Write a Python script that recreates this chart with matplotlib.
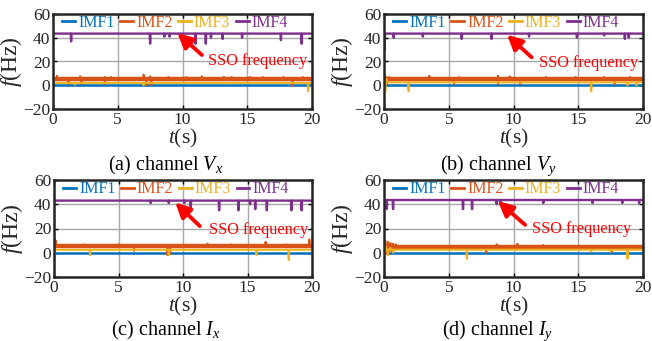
import numpy as np
import matplotlib
matplotlib.use("Agg")
import matplotlib.pyplot as plt

plt.rcParams['font.family'] = ['Liberation Serif', 'DejaVu Serif']
plt.rcParams['mathtext.fontset'] = 'custom'
plt.rcParams['mathtext.rm'] = 'Liberation Serif'
plt.rcParams['mathtext.it'] = 'Liberation Serif:italic'

# ---------------- data ----------------
T_END = 20.0
SERIES = ["IMF1", "IMF2", "IMF3", "IMF4"]
COLORS = ["#0072BD", "#D95319", "#EDB120", "#7E2F8E"]
CAPTIONS = ["(a) channel $V_x$", "(b) channel $V_y$", "(c) channel $I_x$", "(d) channel $I_y$"]
X_TICKS = [0, 5, 10, 15, 20]
Y_TICKS = [-20, 0, 20, 40, 60]

IMF1_LEVEL = [0.0, 0.0, 0.0, 0.0]
IMF2_LEVEL = [5.0, 5.0, 5.5, 5.0]
IMF3_LEVEL = [2.0, 2.5, 2.5, 2.5]
IMF4_LEVEL = [43.5, 43.5, 43.0, 43.5]

# spikes: (time s, value Hz)
IMF2_SPIKES_A = [(0.3, 8), (1.2, 1), (2.1, 7.5), (2.2, 1), (4.0, 1), (4.0, 7), (4.5, 7), (7.0, 9), (7.2, 0),
                 (7.5, 7.5), (7.6, 0), (8.9, 7), (10.3, 7), (11.5, 7.5), (13.2, 7), (13.8, 7), (15.2, 7),
                 (16.2, 7), (17.8, 7), (18.5, -0.5), (19.3, 7)]
IMF3_SPIKES_A = [(1.7, 0.5), (7.0, 0), (13.4, 1.5), (19.7, -5)]
IMF4_DIPS_A = [(1.4, 37), (7.5, 35), (8.6, 41), (9.0, 41), (11.0, 35), (11.8, 35), (12.2, 40), (13.1, 39),
               (14.6, 40), (17.6, 38), (19.2, 35)]

IMF2_SPIKES_B = [(0.05, -3), (0.1, 8), (0.2, 1), (0.4, 7), (3.5, 8), (5.4, 1), (5.8, 7), (8.8, 1), (8.8, 8),
                 (9.7, 7.5), (10.5, 1), (12.5, 7), (14.8, 7), (17.0, 7), (17.8, 1), (19.0, 7)]
IMF3_SPIKES_B = [(0.1, -5), (0.2, 5), (1.9, -5), (16.0, -5), (18.8, 0), (19.5, 0)]
IMF4_DIPS_B = [(0.05, 30), (0.75, 40), (3.0, 41), (6.0, 39), (8.3, 39), (11.2, 41), (14.9, 40), (17.0, 42),
               (18.6, 39), (18.9, 40)]

IMF2_SPIKES_C = [(0.05, 12), (0.15, 10), (2.3, 7), (5.0, 7), (6.2, 1.5), (8.8, -2), (9.0, -1), (11.9, 7.5),
                 (13.7, 7), (16.4, 9), (18.0, 7), (19.8, 11)]
IMF3_SPIKES_C = [(0.05, -5), (2.8, -2), (8.9, -2), (15.7, -2), (18.2, -6)]
IMF4_DIPS_C = [(7.5, 41), (8.9, 41), (10.1, 41), (10.6, 37), (12.8, 35), (14.3, 35), (15.2, 40), (15.6, 36),
               (16.5, 35), (18.4, 35), (19.2, 35)]

IMF2_SPIKES_D = [(0.05, -2), (0.1, 10), (0.2, -1), (0.3, 9), (0.4, 0), (0.5, 8), (0.6, 1), (0.7, 7.5),
                 (0.8, 2), (0.9, 7), (7.9, 0), (8.7, 7), (10.3, 7.5), (12.3, 6.5), (16.1, 3), (17.6, 1)]
IMF3_SPIKES_D = [(0.05, -4), (0.15, 5), (0.3, -2), (0.5, 4), (0.7, 0), (6.4, -5), (16.0, 1), (17.5, 1),
                 (18.8, -5)]
IMF4_DIPS_D = [(0.2, 36), (0.7, 36), (6.1, 36), (6.8, 36), (8.7, 40), (9.0, 40), (12.3, 41), (16.1, 41),
               (18.4, 41), (19.7, 41)]

IMF2_SPIKES = [IMF2_SPIKES_A, IMF2_SPIKES_B, IMF2_SPIKES_C, IMF2_SPIKES_D]
IMF3_SPIKES = [IMF3_SPIKES_A, IMF3_SPIKES_B, IMF3_SPIKES_C, IMF3_SPIKES_D]
IMF4_DIPS = [IMF4_DIPS_A, IMF4_DIPS_B, IMF4_DIPS_C, IMF4_DIPS_D]

# annotation: arrow tip, arrow tail, text position (t, f)
ARROW_TIP = [(9.6, 44), (9.5, 42.5), (9.4, 41.5), (8.8, 42.5)]
ARROW_TAIL = [(11.5, 25.5), (11.4, 23.5), (11.3, 22.0), (10.9, 23.0)]
ARROW_TEXT = [(12.0, 20.5), (12.0, 18.5), (12.0, 18.5), (11.4, 19.5)]

# ---------------- helpers ----------------
def spiky(level, events, w=0.03):
    t = [0.0]
    f = [level]
    for (te, v) in sorted(events):
        t += [max(te - w, 0), te, min(te + w, T_END)]
        f += [level, v, level]
    t.append(T_END)
    f.append(level)
    return np.array(t), np.array(f)

# ---------------- layout ----------------
fig = plt.figure(figsize=(6.52, 3.41), dpi=100)
W, H = 652, 341
boxes = [(53, 14, 312, 109), (384, 14, 643, 109), (54, 180, 312, 277), (384, 180, 643, 277)]
cap_pos = [(166, 170), (498, 170), (166, 335), (498, 335)]
TXT = "#262626"

for i, (l, t, r, b) in enumerate(boxes):
    ax = fig.add_axes([l / W, 1 - b / H, (r - l) / W, (b - t) / H])
    lines = []
    t1, f1 = spiky(IMF1_LEVEL[i], [])
    lines.append(ax.plot(t1, f1, color=COLORS[0], lw=1.8)[0])
    ax.plot([0, T_END], [IMF2_LEVEL[i]] * 2, color=COLORS[1], lw=3.2)
    t2, f2 = spiky(IMF2_LEVEL[i], IMF2_SPIKES[i])
    lines.append(ax.plot(t2, f2, color=COLORS[1], lw=1.4)[0])
    t3, f3 = spiky(IMF3_LEVEL[i], IMF3_SPIKES[i])
    lines.append(ax.plot(t3, f3, color=COLORS[2], lw=1.5)[0])
    t4, f4 = spiky(IMF4_LEVEL[i], IMF4_DIPS[i])
    lines.append(ax.plot(t4, f4, color=COLORS[3], lw=1.7)[0])

    ax.set_xlim(0, 20)
    ax.set_ylim(-20, 60)
    ax.set_xticks(X_TICKS)
    ax.set_yticks(Y_TICKS)
    ax.grid(True, color="#a8a8a8", lw=1.0)
    ax.set_axisbelow(True)
    ax.tick_params(direction="in", length=3, width=1, labelsize=12.5, pad=2,
                   top=True, right=True, labelcolor=TXT)
    for sp in ax.spines.values():
        sp.set_linewidth(1.8)
        sp.set_color("#262626")
    ax.set_xlabel("$t$(s)", fontsize=15.5, labelpad=-0.5, color=TXT)
    ax.set_ylabel("$f$(Hz)", fontsize=17, labelpad=-1, color=TXT)

    leg = ax.legend(lines, SERIES, loc="center left", bbox_to_anchor=(0.035, 0.905), ncol=4,
                    frameon=False, fontsize=11.5, handlelength=0.8, handletextpad=0.2,
                    columnspacing=0.35, borderaxespad=0, borderpad=0)
    for txt, c in zip(leg.get_texts(), COLORS):
        txt.set_color(c)
    for h in leg.legend_handles:
        h.set_linewidth(2)

    ax.annotate("", xy=ARROW_TIP[i], xytext=ARROW_TAIL[i],
                arrowprops=dict(arrowstyle="-|>", color="red", lw=2.8, mutation_scale=22,
                                shrinkA=0, shrinkB=0))
    ax.text(ARROW_TEXT[i][0], ARROW_TEXT[i][1], "SSO frequency", color="red", fontsize=11.7,
            ha="left", va="center")

    fig.text(cap_pos[i][0] / W, 1 - cap_pos[i][1] / H, CAPTIONS[i], fontsize=14.5,
             ha="center", va="baseline", color="black")

fig.savefig("out.png", dpi=100)
